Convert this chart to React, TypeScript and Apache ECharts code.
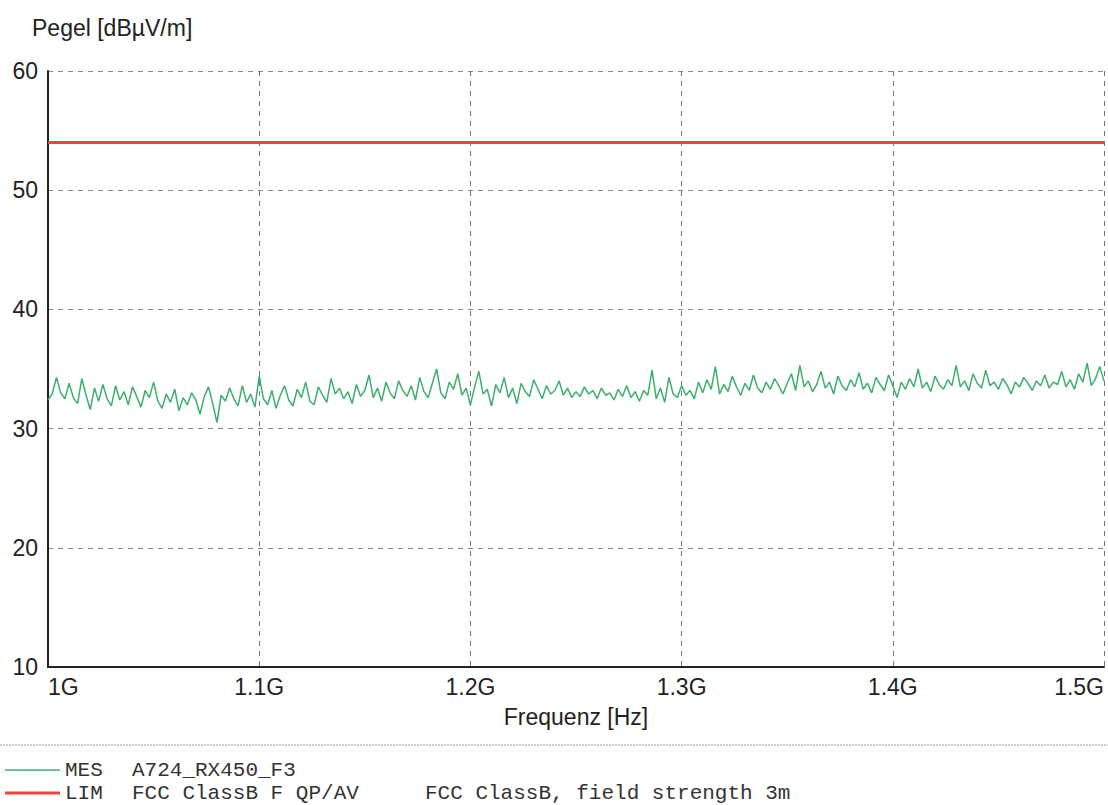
import React, { useEffect, useRef } from "react";
import * as echarts from "echarts";

// Frequency sweep: 1000 MHz to 1500 MHz in 2 MHz steps
const FREQ_START_MHZ = 1000;
const FREQ_STEP_MHZ = 2;

// Measured level (MES A724_RX450_F3), dBµV/m
const mesLevel: number[] = [
  32.4, 32.9, 34.3, 33.0, 32.5, 33.8, 32.6, 32.1, 34.2, 32.8, 31.6, 33.4, 32.3, 33.7, 32.5, 31.9, 33.6, 32.4, 33.1, 32.0, 33.5, 32.7, 31.8, 33.2, 32.6,
  33.9, 32.3, 31.7, 32.9, 32.2, 33.3, 31.5, 32.6, 32.0, 33.0, 32.4, 31.2, 32.7, 33.5, 32.1, 30.5, 32.8, 32.3, 33.4, 32.5, 31.9, 33.6, 32.2, 32.9, 31.8,
  34.4, 32.5, 32.0, 33.2, 31.7, 32.8, 33.6, 32.4, 31.9, 33.3, 32.6, 33.9, 32.3, 32.0, 33.5, 32.8, 32.2, 34.2, 32.9, 33.4, 32.5, 33.1, 32.1, 33.7, 32.7,
  33.2, 34.5, 32.6, 33.4, 32.3, 33.9, 33.0, 32.5, 34.0, 33.2, 32.7, 33.6, 32.4, 34.3, 33.1, 32.6, 33.8, 35.0, 33.0, 32.5, 33.9, 33.3, 34.6, 32.8, 33.4,
  32.0, 33.5, 34.8, 32.9, 33.3, 31.9, 33.7, 33.0, 34.3, 32.6, 33.4, 32.1, 33.8, 33.1, 32.7, 34.1, 33.3, 32.5, 33.6, 32.9, 33.2, 34.0, 32.8, 33.4, 32.6,
  33.1, 32.7, 33.5, 32.9, 33.2, 32.5, 33.4, 32.8, 33.0, 32.4, 33.3, 32.7, 33.6, 32.6, 33.1, 32.3, 33.2, 32.8, 34.9, 32.5, 33.4, 32.2, 34.3, 32.9, 32.6,
  33.6, 32.8, 33.2, 32.5, 33.9, 33.0, 34.1, 33.3, 35.2, 32.9, 33.7, 33.1, 34.4, 33.5, 32.8, 33.8, 33.2, 34.5, 33.4, 33.0, 33.9, 33.3, 34.2, 33.6, 32.9,
  33.8, 34.6, 33.2, 35.3, 33.5, 34.0, 33.1, 33.7, 34.8, 33.4, 33.9, 32.9, 34.4, 33.6, 33.2, 34.1, 33.5, 34.7, 33.3, 33.8, 33.0, 34.3, 33.7, 33.2, 34.5,
  33.6, 32.6, 33.9, 33.3, 34.2, 33.5, 35.0, 33.4, 33.9, 33.1, 34.4, 33.7, 33.3, 34.1, 33.6, 35.3, 33.5, 34.0, 33.2, 34.6, 33.8, 33.4, 34.9, 33.6, 33.9,
  33.3, 34.2, 33.7, 32.9, 33.9, 33.5, 34.3, 33.8, 33.2, 34.0, 33.6, 34.5, 33.4, 33.9, 33.7, 34.8, 33.5, 34.1, 33.3, 34.6, 33.9, 35.5, 33.6, 34.2, 35.2, 34.0,
];

// Limit line (LIM FCC ClassB F QP/AV): frequency in MHz, level in dBµV/m
const limFreq: number[] = [1000, 1500];
const limLevel: number[] = [54, 54];

// Axis settings
const X_MIN = 1000;
const X_MAX = 1500;
const X_STEP = 100;
const Y_MIN = 10;
const Y_MAX = 60;
const Y_STEP = 10;

// Legend texts
const legendRows = [
  { tag: "MES", name: "A724_RX450_F3", note: "" },
  { tag: "LIM", name: "FCC ClassB F QP/AV", note: "FCC ClassB, field strength 3m" },
];

const MES_COLOR = "#3daf6c";
const LIM_COLOR = "#e8473f";
const SANS = "'Liberation Sans', Arial, sans-serif";
const MONO = "'Liberation Mono', 'Courier New', monospace";
const LABEL_SIZE = 23;
const LEGEND_FONT = `21px ${MONO}`;

export default function App() {
  const ref = useRef<HTMLDivElement>(null);

  useEffect(() => {
    if (!ref.current) return;
    const chart = echarts.init(ref.current, undefined, { renderer: "svg" });

    const mesData = mesLevel.map((v, i) => [FREQ_START_MHZ + i * FREQ_STEP_MHZ, v]);
    const limData = limFreq.map((f, i) => [f, limLevel[i]]);

    const legendGraphics: any[] = [];
    legendRows.forEach((row, i) => {
      const y = 770 + i * 23;
      legendGraphics.push({
        type: "line",
        shape: { x1: 5, y1: y, x2: 60, y2: y },
        style: { stroke: i === 0 ? MES_COLOR : LIM_COLOR, lineWidth: i === 0 ? 1.5 : 3 },
      });
      legendGraphics.push({
        type: "text",
        x: 65,
        y,
        style: { text: row.tag, font: LEGEND_FONT, fill: "#333", textVerticalAlign: "middle" },
      });
      legendGraphics.push({
        type: "text",
        x: 132,
        y,
        style: { text: row.name, font: LEGEND_FONT, fill: "#333", textVerticalAlign: "middle" },
      });
      if (row.note) {
        legendGraphics.push({
          type: "text",
          x: 425,
          y,
          style: { text: row.note, font: LEGEND_FONT, fill: "#333", textVerticalAlign: "middle" },
        });
      }
    });

    chart.setOption({
      animation: false,
      backgroundColor: "#ffffff",
      grid: { left: 48, right: 4, top: 71, bottom: 138, containLabel: false },
      xAxis: {
        type: "value",
        min: X_MIN,
        max: X_MAX,
        interval: X_STEP,
        name: "Frequenz [Hz]",
        nameLocation: "middle",
        nameGap: 38,
        nameTextStyle: { fontFamily: SANS, fontSize: LABEL_SIZE, color: "#222" },
        axisLine: { show: true, onZero: false, lineStyle: { color: "#222", width: 2 } },
        axisTick: { show: false },
        axisLabel: {
          margin: 8,
          fontFamily: SANS,
          fontSize: LABEL_SIZE,
          color: "#222",
          alignMinLabel: "left",
          alignMaxLabel: "right",
          formatter: (v: number) => `${Number((v / 1000).toFixed(1))}G`,
        },
        splitLine: { show: true, lineStyle: { color: "#777", type: [5, 5], width: 1 } },
      },
      yAxis: {
        type: "value",
        min: Y_MIN,
        max: Y_MAX,
        interval: Y_STEP,
        axisLine: { show: true, lineStyle: { color: "#222", width: 2 } },
        axisTick: { show: false },
        axisLabel: { margin: 10, fontFamily: SANS, fontSize: LABEL_SIZE, color: "#222" },
        splitLine: { show: true, lineStyle: { color: "#888", type: [5, 5], width: 1 } },
      },
      series: [
        {
          name: "LIM",
          type: "line",
          data: limData,
          showSymbol: false,
          lineStyle: { color: LIM_COLOR, width: 3 },
          z: 3,
        },
        {
          name: "MES",
          type: "line",
          data: mesData,
          showSymbol: false,
          lineStyle: { color: MES_COLOR, width: 1.5 },
          z: 4,
        },
      ],
      graphic: [
        {
          type: "text",
          x: 32,
          y: 28,
          style: {
            text: "Pegel [dBµV/m]",
            font: `${LABEL_SIZE}px ${SANS}`,
            fill: "#222",
            textVerticalAlign: "middle",
          },
        },
        {
          type: "line",
          shape: { x1: 0, y1: 745, x2: 1108, y2: 745 },
          style: { stroke: "#999", lineWidth: 1, lineDash: [2, 1] },
        },
        ...legendGraphics,
      ],
    });

    return () => chart.dispose();
  }, []);

  return (
    <div
      ref={ref}
      style={{ position: "fixed", left: 0, top: 0, width: 1108, height: 805, background: "#fff" }}
    />
  );
}
